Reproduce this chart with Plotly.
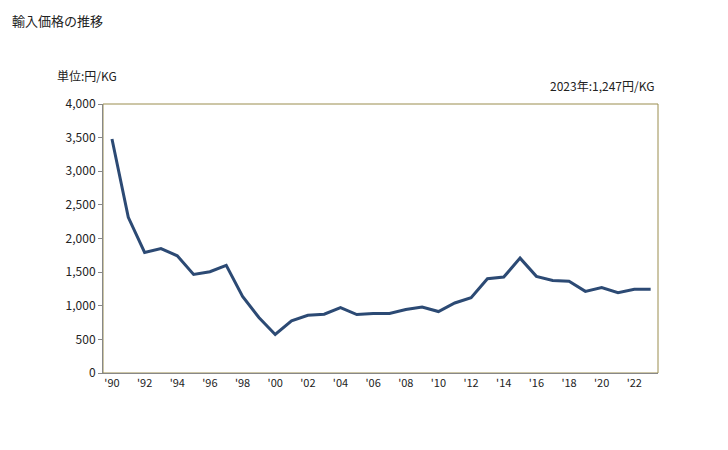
import plotly.graph_objects as go

years = list(range(1990, 2024))
prices = [3480, 2315, 1792, 1851, 1743, 1466, 1506, 1600, 1140, 825,
          573, 775, 859, 874, 973, 869, 884, 884, 943, 982,
          914, 1041, 1121, 1402, 1426, 1708, 1437, 1377, 1363, 1214,
          1269, 1195, 1244, 1247]
x_tick_vals = list(range(1990, 2023, 2))
x_tick_text = ["'" + str(y)[2:] for y in x_tick_vals]
y_tick_vals = [0, 500, 1000, 1500, 2000, 2500, 3000, 3500, 4000]
y_tick_text = [f"{v:,}" for v in y_tick_vals]

font_family = "Noto Sans CJK JP, Liberation Sans, sans-serif"

fig = go.Figure()
fig.add_trace(go.Scatter(
    x=years, y=prices, mode="lines",
    line=dict(color="#2c4a74", width=3),
    hoverinfo="x+y", showlegend=False,
))

PW, PH = 555, 269

fig.update_layout(
    width=720, height=442,
    margin=dict(l=95, r=70, t=96, b=77),
    paper_bgcolor="white", plot_bgcolor="white",
    font=dict(family=font_family, size=11, color="#222222"),
    xaxis=dict(
        range=[1989.45, 2023.45],
        tickvals=x_tick_vals, ticktext=x_tick_text,
        showgrid=False, zeroline=False,
        showline=True, linecolor="#888888", linewidth=1,
        ticks="", tickfont=dict(size=11, color="#222222"),
    ),
    yaxis=dict(
        range=[0, 4000],
        tickvals=y_tick_vals, ticktext=y_tick_text,
        showgrid=False, zeroline=False,
        showline=True, linecolor="#888888", linewidth=1,
        ticks="outside", ticklen=4, tickcolor="#888888",
        tickfont=dict(size=12, color="#222222"),
    ),
    shapes=[dict(
        type="rect", xref="paper", yref="paper", x0=0, y0=0, x1=1, y1=1,
        line=dict(color="#9a8d4e", width=1), layer="below",
    )],
    annotations=[
        dict(text="輸入価格の推移", xref="paper", yref="paper",
             x=(10 - 103) / PW, y=(373 - 9) / PH, xanchor="left", yanchor="top",
             showarrow=False, font=dict(size=13, color="#222222")),
        dict(text="単位:円/KG", xref="paper", yref="paper",
             x=(55 - 103) / PW, y=(373 - 75) / PH, xanchor="left", yanchor="middle",
             showarrow=False, font=dict(size=12, color="#222222")),
        dict(text="2023年:1,247円/KG", xref="paper", yref="paper",
             x=(656 - 103) / PW, y=(373 - 85) / PH, xanchor="right", yanchor="middle",
             showarrow=False, font=dict(size=12, color="#222222")),
    ],
)

fig.write_html("out.html")
